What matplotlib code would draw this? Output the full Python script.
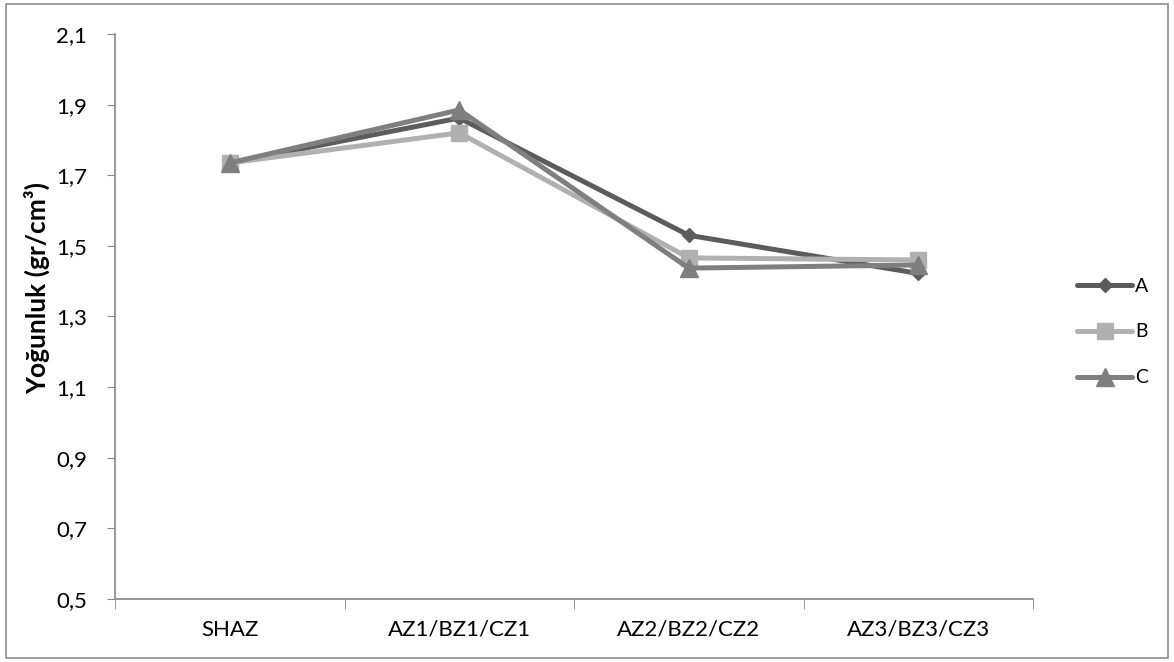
import matplotlib
matplotlib.use("Agg")
import matplotlib.pyplot as plt
from matplotlib.patches import Rectangle

categories = ["SHAZ", "AZ1/BZ1/CZ1", "AZ2/BZ2/CZ2", "AZ3/BZ3/CZ3"]
series_a = [1.735, 1.862, 1.530, 1.422]
series_b = [1.735, 1.820, 1.466, 1.460]
series_c = [1.735, 1.885, 1.437, 1.446]
y_ticks = [0.5, 0.7, 0.9, 1.1, 1.3, 1.5, 1.7, 1.9, 2.1]
y_tick_labels = ["0,5", "0,7", "0,9", "1,1", "1,3", "1,5", "1,7", "1,9", "2,1"]

plt.rcParams["font.family"] = ["Lato", "DejaVu Sans"]

fig = plt.figure(figsize=(11.74, 6.62), dpi=100)
ax = fig.add_axes([115 / 1174, 1 - 599 / 662, (1033 - 115) / 1174, (599 - 34) / 662])

x = list(range(len(categories)))
styles = [
    ("A", series_a, "#5c5c5c", "D", 7.5),
    ("B", series_b, "#b0b0b0", "s", 12),
    ("C", series_c, "#7f7f7f", "^", 13),
]
for name, vals, col, mk, ms in styles:
    ax.plot(x, vals, color=col, lw=3.6, marker=mk, markersize=ms,
            markerfacecolor=col, markeredgecolor=col, label=name,
            solid_capstyle="round", solid_joinstyle="round")

ax.set_xlim(-0.5, len(categories) - 0.5)
ax.set_ylim(0.5, 2.1)
ax.set_yticks(y_ticks)
ax.set_yticklabels(y_tick_labels, fontsize=16)
ax.set_xticks(x)
ax.set_xticklabels(categories, fontsize=16)
ax.tick_params(axis="x", length=0, pad=15)
ax.set_xticks([i - 0.5 for i in range(len(categories) + 1)], minor=True)
ax.tick_params(axis="x", which="minor", length=7, color="#888888", direction="out")
ax.tick_params(axis="y", length=6, color="#888888", direction="out", pad=14)

for side in ("top", "right"):
    ax.spines[side].set_visible(False)
for side in ("left", "bottom"):
    ax.spines[side].set_color("#888888")
    ax.spines[side].set_linewidth(1.2)

ax.set_ylabel("Yoğunluk (gr/cm³)", fontsize=19, fontweight="bold")
ax.yaxis.set_label_coords(-0.071, 0.55)

ax.legend(loc="center left", bbox_to_anchor=(1.029, 0.4726), frameon=False,
          fontsize=14, handlelength=2.83, labelspacing=1.49, handletextpad=0.15)

fig.patches.append(Rectangle((6 / 1174, 4 / 662), 1162 / 1174, 654 / 662,
                             transform=fig.transFigure, fill=False,
                             edgecolor="#8c8c8c", lw=1.2))

fig.savefig("out.png", dpi=100)
